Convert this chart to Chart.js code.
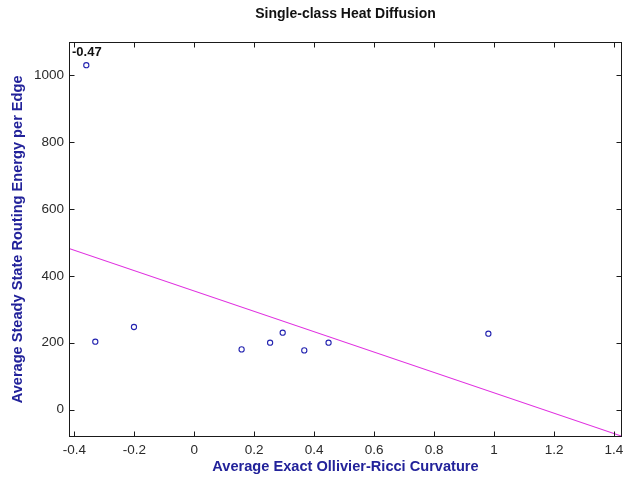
<!DOCTYPE html>
<html>
<head>
<meta charset="utf-8">
<script src="https://cdn.jsdelivr.net/npm/chart.js@4.4.0/dist/chart.umd.min.js"></script>
<style>
  html, body { margin: 0; padding: 0; background: #ffffff; }
  #wrap { width: 629px; height: 480px; position: relative; }
</style>
</head>
<body>
<div id="wrap"><canvas id="c" width="629" height="480"></canvas></div>
<script>
// ---- Data ----
const curvature = [-0.360, -0.330, -0.201, 0.158, 0.253, 0.295, 0.367, 0.448, 0.981];
const energy    = [1030,   203,    247,    180,   200,   230,   177,   200,   227];
const fitX = [-0.4177, 1.4267];
const fitY = [482, -80];
const xTicks = [-0.4, -0.2, 0, 0.2, 0.4, 0.6, 0.8, 1, 1.2, 1.4];
const yTicks = [0, 200, 400, 600, 800, 1000];
const xRange = [-0.4177, 1.4267];
const yRange = [-82, 1100];
const corrLabel = '-0.47';
const chartTitle = 'Single-class Heat Diffusion';
const xTitle = 'Average Exact Ollivier-Ricci Curvature';
const yTitle = 'Average Steady State Routing Energy per Edge';

const pts = curvature.map((x, i) => ({ x: x, y: energy[i] }));
const fit = fitX.map((x, i) => ({ x: x, y: fitY[i] }));

const SANS = '"Liberation Sans", Arial, sans-serif';

const framePlugin = {
  id: 'frame',
  afterDraw(chart) {
    const ctx = chart.ctx;
    const a = chart.chartArea;
    const xs = chart.scales.x, ys = chart.scales.y;
    ctx.save();
    ctx.strokeStyle = '#1a1a1a';
    ctx.lineWidth = 1;
    const L = Math.round(a.left) + 0.5, R = Math.round(a.right) - 0.5;
    const T = Math.round(a.top) + 0.5, B = Math.round(a.bottom) - 0.5;
    ctx.strokeRect(L, T, R - L, B - T);
    const tl = 5;
    ctx.beginPath();
    xTicks.forEach(v => {
      const px = Math.round(xs.getPixelForValue(v)) + 0.5;
      ctx.moveTo(px, B); ctx.lineTo(px, B - tl);
      ctx.moveTo(px, T); ctx.lineTo(px, T + tl);
    });
    yTicks.forEach(v => {
      const py = Math.round(ys.getPixelForValue(v)) + 0.5;
      ctx.moveTo(L, py); ctx.lineTo(L + tl, py);
      ctx.moveTo(R, py); ctx.lineTo(R - tl, py);
    });
    ctx.stroke();
    ctx.fillStyle = '#111111';
    ctx.font = 'bold 13px ' + SANS;
    ctx.textBaseline = 'middle';
    ctx.textAlign = 'left';
    ctx.fillText(corrLabel, a.left + 3, a.top + 11);
    ctx.restore();
  }
};

new Chart(document.getElementById('c'), {
  type: 'scatter',
  data: {
    datasets: [
      {
        label: 'data',
        data: pts,
        pointStyle: 'circle',
        pointRadius: 2.6,
        pointBorderWidth: 1.1,
        borderColor: '#2424b0',
        backgroundColor: 'rgba(0,0,0,0)',
        showLine: false,
        order: 1
      },
      {
        label: 'fit',
        data: fit,
        showLine: true,
        pointRadius: 0,
        borderColor: '#e030e0',
        borderWidth: 1.1,
        backgroundColor: 'rgba(0,0,0,0)',
        order: 2
      }
    ]
  },
  options: {
    responsive: false,
    animation: false,
    layout: { padding: { left: 0, right: 7, top: 0, bottom: 0 } },
    plugins: {
      legend: { display: false },
      tooltip: { enabled: false },
      title: {
        display: true,
        text: chartTitle,
        fullSize: false,
        color: '#111111',
        font: { family: SANS, size: 14, weight: 'bold' },
        padding: { top: 6, bottom: 19 }
      }
    },
    scales: {
      x: {
        type: 'linear',
        min: xRange[0],
        max: xRange[1],
        afterBuildTicks: s => { s.ticks = xTicks.map(v => ({ value: v })); },
        afterFit: s => { s.height = 43; },
        grid: { display: false, drawTicks: false },
        border: { display: false },
        ticks: {
          color: '#2a2a2a',
          padding: 5,
          maxRotation: 0,
          autoSkip: false,
          font: { family: SANS, size: 13.5 },
          callback: v => String(Math.round(v * 10) / 10)
        },
        title: {
          display: true,
          text: xTitle,
          color: '#22229a',
          font: { family: SANS, size: 14.6, weight: 'bold' },
          padding: { top: 0, bottom: 4 }
        }
      },
      y: {
        type: 'linear',
        min: yRange[0],
        max: yRange[1],
        afterBuildTicks: s => { s.ticks = yTicks.map(v => ({ value: v })); },
        afterFit: s => { s.width = 69; },
        grid: { display: false, drawTicks: false },
        border: { display: false },
        ticks: {
          color: '#2a2a2a',
          padding: 5,
          autoSkip: false,
          font: { family: SANS, size: 13.5 },
          callback: v => String(v)
        },
        title: {
          display: true,
          text: yTitle,
          color: '#22229a',
          font: { family: SANS, size: 14.6, weight: 'bold' },
          padding: { top: 9, bottom: 0 }
        }
      }
    }
  },
  plugins: [framePlugin]
});
</script>
</body>
</html>
